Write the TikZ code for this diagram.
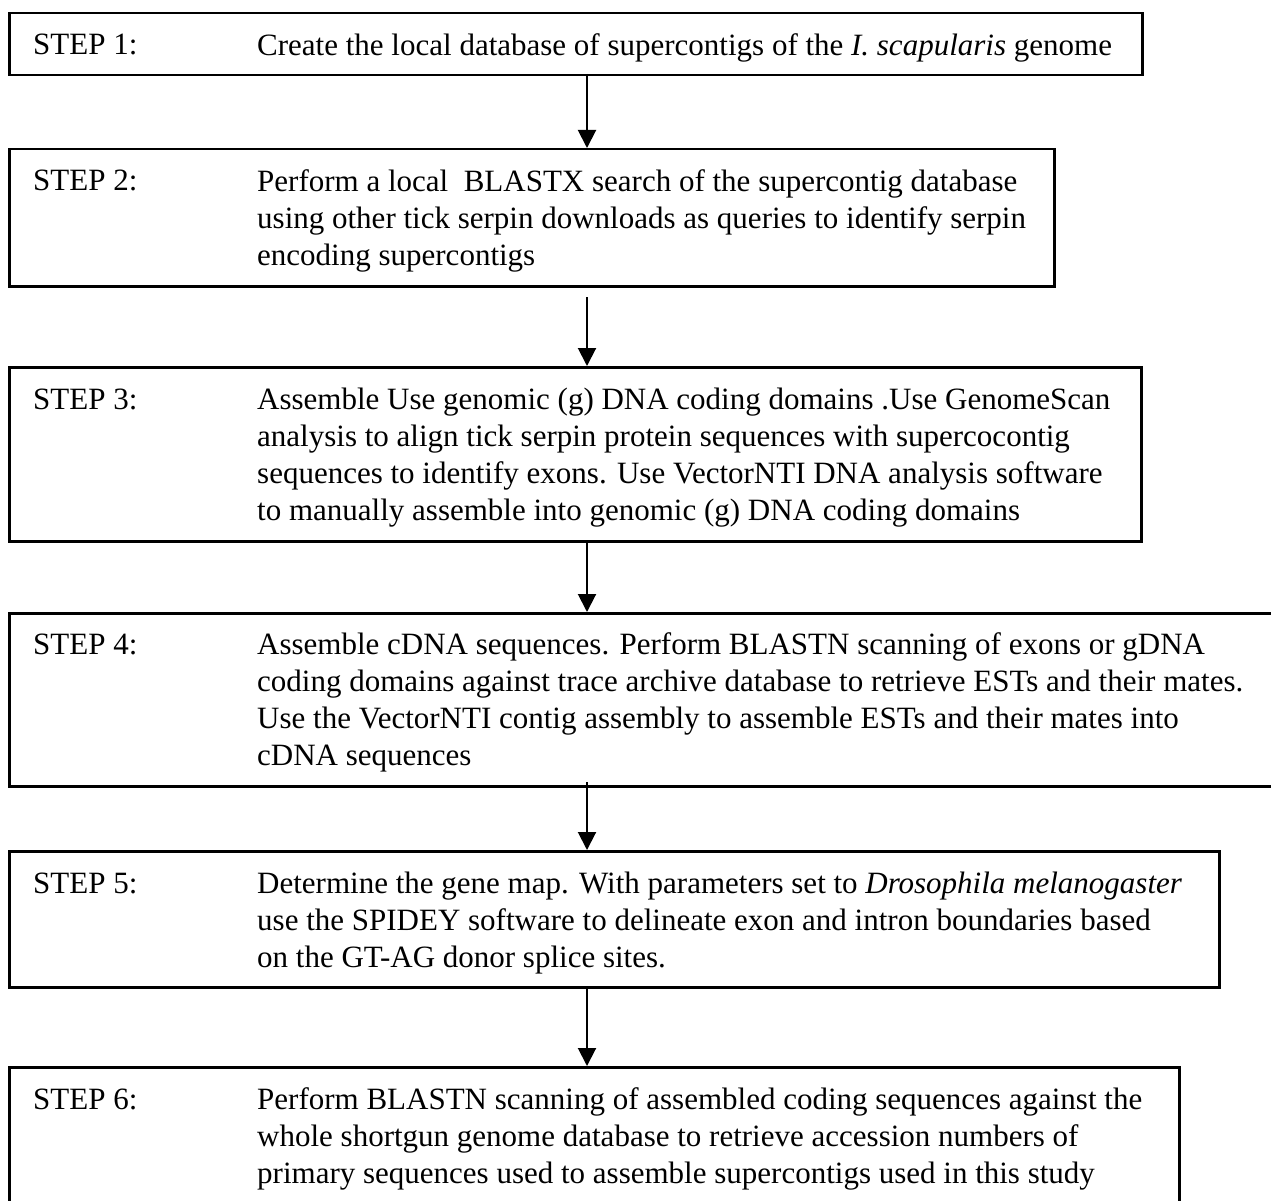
\documentclass[tikz,border=0pt]{standalone}
\usepackage{fontspec}
\setmainfont{Liberation Serif}
\usetikzlibrary{arrows.meta}
\newcommand{\firststrut}{\rule{0pt}{25pt}}
\tikzset{
  stepbox/.style={draw=black, line width=2.5pt, rectangle, inner sep=0pt, anchor=north west},
  steplabel/.style={inner sep=0pt, anchor=base west, font=\fontsize{31}{37}\selectfont},
  steptext/.style={inner sep=0pt, anchor=north west, align=left, font=\fontsize{31}{37}\selectfont},
  flow/.style={line width=2pt, -{Triangle[width=18pt,length=18pt]}}
}
\begin{document}
\begin{tikzpicture}[x=1pt,y=-1pt]
\useasboundingbox (0,0) rectangle (1271,1201);
\clip (0,0) rectangle (1271,1201);
% boxes
\node[stepbox, minimum width=1133pt, minimum height=62pt] (b1) at (8,12) {};
\node[stepbox, minimum width=1045pt, minimum height=137pt] (b2) at (8,148) {};
\node[stepbox, minimum width=1132pt, minimum height=174pt] (b3) at (8,366) {};
\node[stepbox, minimum width=1290pt, minimum height=173pt] (b4) at (8,612) {};
\node[stepbox, minimum width=1210pt, minimum height=136pt] (b5) at (8,850) {};
\node[stepbox, minimum width=1170pt, minimum height=160pt] (b6) at (8,1066) {};
% start points of connectors
\coordinate (s1) at (587,74);
\coordinate (s2) at (587,297);
\coordinate (s3) at (587,540);
\coordinate (s4) at (587,782);
\coordinate (s5) at (587,986);
% labels (baselines of first lines: 55, 191, 409, 654, 893, 1109)
\node[steplabel] (l1) at (33,55) {STEP 1:};
\node[steptext] (t1) at (257,30) {\firststrut Create the local database of supercontigs of the \textit{I. scapularis} genome};
\node[steplabel] (l2) at (33,191) {STEP 2:};
\node[steptext] (t2) at (257,166) {\firststrut Perform a local\ \ BLASTX search of the supercontig database\\using other tick serpin downloads as queries to identify serpin\\encoding supercontigs};
\node[steplabel] (l3) at (33,409) {STEP 3:};
\node[steptext] (t3) at (257,384) {\firststrut Assemble Use genomic (g) DNA coding domains .Use GenomeScan\\analysis to align tick serpin protein sequences with supercocontig\\sequences to identify exons. Use VectorNTI DNA analysis software\\to manually assemble into genomic (g) DNA coding domains};
\node[steplabel] (l4) at (33,654) {STEP 4:};
\node[steptext] (t4) at (257,629) {\firststrut Assemble cDNA sequences. Perform BLASTN scanning of exons or gDNA\\coding domains against trace archive database to retrieve ESTs and their mates.\\Use the VectorNTI contig assembly to assemble ESTs and their mates into\\cDNA sequences};
\node[steplabel] (l5) at (33,893) {STEP 5:};
\node[steptext] (t5) at (257,868) {\firststrut Determine the gene map. With parameters set to \textit{Drosophila melanogaster}\\use the SPIDEY software to delineate exon and intron boundaries based\\on the GT-AG donor splice sites.};
\node[steplabel] (l6) at (33,1109) {STEP 6:};
\node[steptext] (t6) at (257,1084) {\firststrut Perform BLASTN scanning of assembled coding sequences against the\\whole shortgun genome database to retrieve accession numbers of\\primary sequences used to assemble supercontigs used in this study};
% connectors
\draw[flow] (s1) -- (s1 |- b2.north);
\draw[flow] (s2) -- (s2 |- b3.north);
\draw[flow] (s3) -- (s3 |- b4.north);
\draw[flow] (s4) -- (s4 |- b5.north);
\draw[flow] (s5) -- (s5 |- b6.north);
\end{tikzpicture}
\end{document}
